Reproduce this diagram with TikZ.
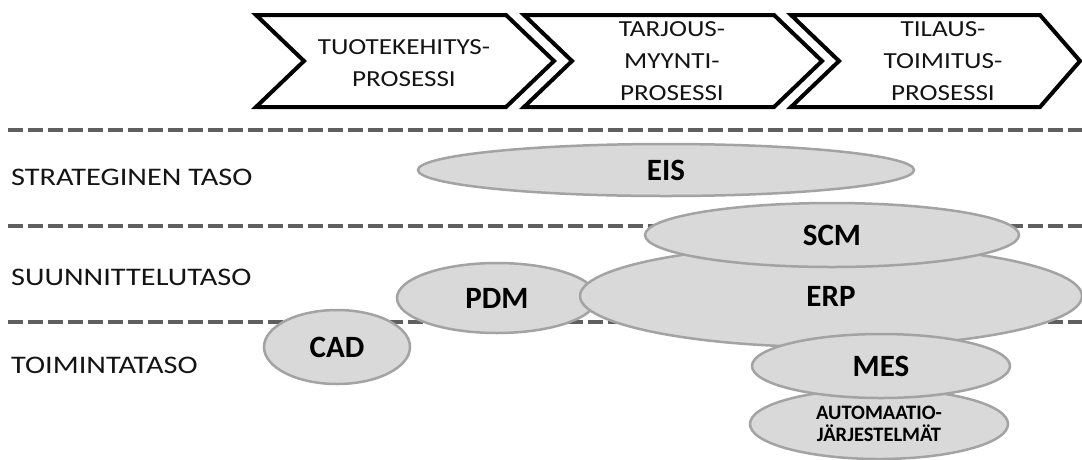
\documentclass[tikz,border=0pt]{standalone}
\usepackage{fontspec}
\setmainfont{Carlito}
\newfontfamily\chevfont{Carlito}[FakeStretch=1.18]
\newfontfamily\levelfont{Carlito}[FakeStretch=1.2]
\usetikzlibrary{shapes.geometric}
\definecolor{ellfill}{HTML}{D9D9D9}
\definecolor{elledge}{HTML}{A3A3A3}
\definecolor{dashgray}{HTML}{5F5F5F}
\definecolor{txt}{HTML}{141414}
\tikzset{
  chevron/.style={draw=black, line width=4pt, line join=miter, fill=white},
  chevtext/.style={align=center, text=txt, inner sep=0pt,
    font=\chevfont\fontsize{23}{32}\selectfont},
  levelline/.style={draw=dashgray, line width=4pt, dash pattern=on 15pt off 5pt},
  levellabel/.style={anchor=west, text=txt, inner sep=0pt,
    font=\levelfont\fontsize{25.3}{28}\selectfont},
  system/.style={ellipse, draw=elledge, fill=ellfill, line width=2.5pt,
    inner sep=0pt, text=black, font=\bfseries\fontsize{31}{34}\selectfont},
}
\begin{document}
\begin{tikzpicture}[x=1pt, y=-1pt]
\useasboundingbox (0,0) rectangle (1082,459);

% process chevrons
\draw[chevron] (256,15) -- (506,15) -- (554,61) -- (506,107) -- (256,107) -- (304,61) -- cycle;
\draw[chevron] (524,15) -- (774,15) -- (822,61) -- (774,107) -- (524,107) -- (572,61) -- cycle;
\draw[chevron] (791,15) -- (1040,15) -- (1080,61) -- (1040,107) -- (791,107) -- (839,61) -- cycle;
\node[chevtext] (p1) at (404,63) {TUOTEKEHITYS-\\PROSESSI};
\node[chevtext] (p2) at (672,61) {TARJOUS-\\MYYNTI-\\PROSESSI};
\node[chevtext] (p3) at (943,61) {TILAUS-\\TOIMITUS-\\PROSESSI};

% level separators
\coordinate (l1a) at (8,130);  \coordinate (l1b) at (1082,130);
\coordinate (l2a) at (8,226);  \coordinate (l2b) at (1082,226);
\coordinate (l3a) at (8,322);  \coordinate (l3b) at (1082,322);
\draw[levelline] (l1a) -- (l1b);
\draw[levelline] (l2a) -- (l2b);
\draw[levelline] (l3a) -- (l3b);

% level names
\node[levellabel] (t1) at (11,177) {STRATEGINEN TASO};
\node[levellabel] (t2) at (11,277) {SUUNNITTELUTASO};
\node[levellabel] (t3) at (11,365) {TOIMINTATASO};

% information systems
\node[system, minimum width=496pt, minimum height=52pt] (eis) at (666,170) {EIS};
\node[system, minimum width=200pt, minimum height=70pt] (pdm) at (497,298) {PDM};
\node[system, minimum width=146pt, minimum height=74pt] (cad) at (337,347) {CAD};
\node[system, minimum width=502pt, minimum height=102pt] (erp) at (831,296) {ERP};
\node[system, minimum width=374pt, minimum height=64pt] (scm) at (832,235) {SCM};
\node[system, minimum width=258pt, minimum height=70pt, align=center,
      font=\bfseries\fontsize{20.5}{22}\selectfont] (aut) at (879,424) {AUTOMAATIO-\\JÄRJESTELMÄT};
\node[system, minimum width=258pt, minimum height=64pt] (mes) at (881,366) {MES};
\end{tikzpicture}
\end{document}
